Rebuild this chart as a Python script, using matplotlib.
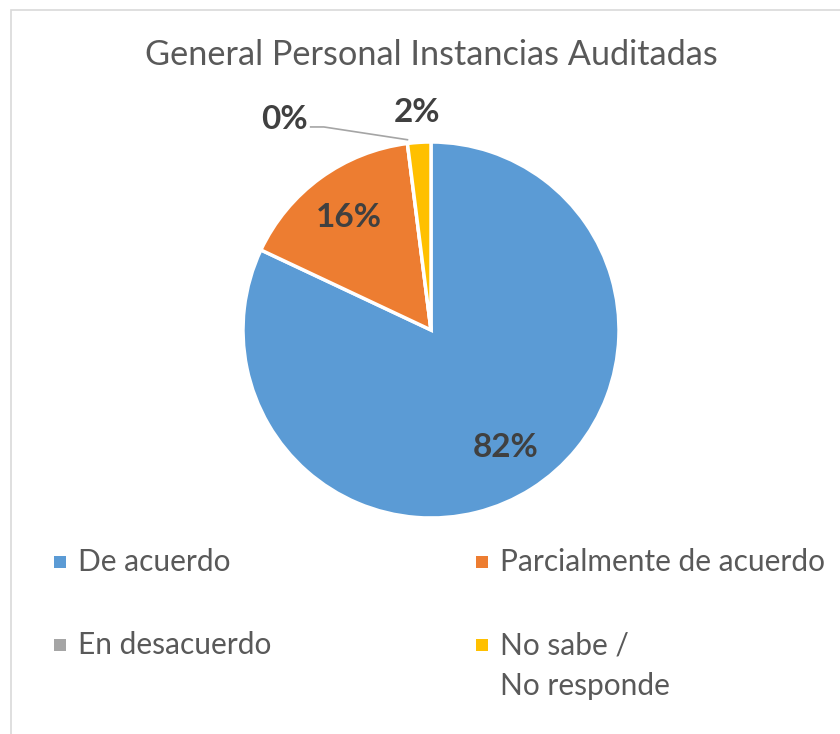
import numpy as np
import matplotlib
matplotlib.use("Agg")
import matplotlib.pyplot as plt
from matplotlib.patches import Rectangle

# data
categories = ["De acuerdo", "Parcialmente de acuerdo", "En desacuerdo", "No sabe /\nNo responde"]
values = [82, 16, 0, 2]
colors = ["#5B9BD5", "#ED7D31", "#A5A5A5", "#FFC000"]

plt.rcParams["font.family"] = ["Lato", "DejaVu Sans"]

W, H = 840, 734
fig = plt.figure(figsize=(W / 100, H / 100), dpi=100)

# chart frame (light gray border)
fig.patches.append(Rectangle((11 / W, -0.01), 1.0, 1 - 10 / H + 0.01, transform=fig.transFigure,
                             fill=False, edgecolor="#D9D9D9", linewidth=1.2))

fig.text(431 / W, 1 - 55 / H, "General Personal Instancias Auditadas",
         ha="center", va="center", fontsize=24.7, color="#595959")

# pie area: center (431, 330) px, radius 188 px
cx, cy, r = 431, 330, 188
ax = fig.add_axes([(cx - r) / W, (H - cy - r) / H, 2 * r / W, 2 * r / H])
wedges, _ = ax.pie(values, colors=colors, startangle=90, counterclock=False,
                   radius=1, wedgeprops=dict(edgecolor="white", linewidth=2.5))
ax.set_xlim(-1, 1)
ax.set_ylim(-1, 1)
ax.set_aspect("equal")
ax.axis("off")

label_kw = dict(ha="center", va="center", fontsize=24, fontweight="bold", color="#404040")
for i, (w, v) in enumerate(zip(wedges, values)):
    mid = np.deg2rad((w.theta1 + w.theta2) / 2)
    txt = f"{v}%"
    if v >= 10:
        d = 0.74
        ax.text(d * np.cos(mid), d * np.sin(mid), txt, **label_kw)
    elif v == 0:
        # leader line out to the left
        x0, y0 = np.cos(mid), np.sin(mid)
        ax.plot([x0, -0.57, -0.64], [y0 + 0.02, 1.08, 1.08], color="#A5A5A5", lw=1.2, clip_on=False)
        ax.text(-0.78, 1.12, txt, **label_kw)
    else:
        d = 1.16
        ax.text(d * np.cos(mid), d * np.sin(mid), txt, **label_kw)

# legend, two columns x two rows
col_x = [54, 476]
row_y = [562, 645]
line_gap = 41
for i, (lab, c) in enumerate(zip(categories, colors)):
    x = col_x[i % 2]
    y = row_y[i // 2]
    fig.patches.append(Rectangle((x / W, 1 - (y + 6) / H), 12 / W, 12 / H, transform=fig.transFigure,
                                 facecolor=c, edgecolor="none"))
    for k, line in enumerate(lab.split("\n")):
        fig.text((x + 24) / W, 1 - (y + k * line_gap) / H, line, ha="left", va="center",
                 fontsize=21.5, color="#595959")

fig.savefig("out.png", dpi=100, facecolor="white")
